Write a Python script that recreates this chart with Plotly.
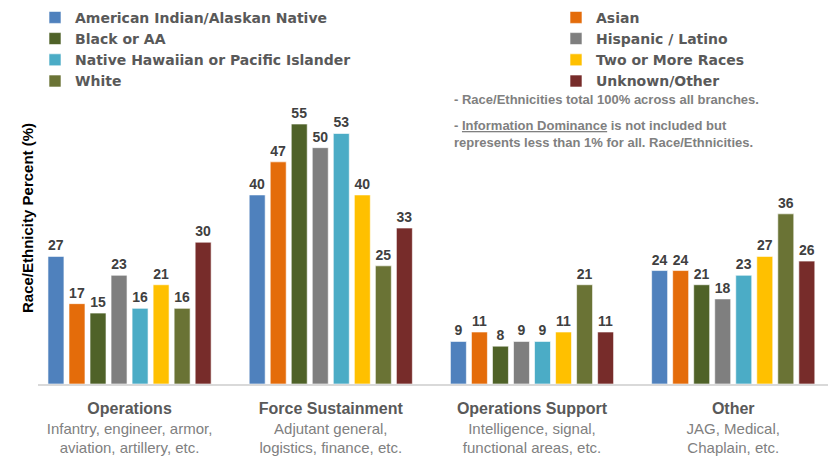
import plotly.graph_objects as go

branches = ["Operations", "Force Sustainment", "Operations Support", "Other"]
branch_notes = [
    "Infantry, engineer, armor,<br>aviation, artillery, etc.",
    "Adjutant general,<br>logistics, finance, etc.",
    "Intelligence, signal,<br>functional areas, etc.",
    "JAG, Medical,<br>Chaplain, etc.",
]

groups = [
    "American Indian/Alaskan Native", "Asian",
    "Black or AA", "Hispanic / Latino",
    "Native Hawaiian or Pacific Islander", "Two or More Races",
    "White", "Unknown/Other",
]
american_indian = [27, 40, 9, 24]
asian = [17, 47, 11, 24]
black = [15, 55, 8, 21]
hispanic = [23, 50, 9, 18]
hawaiian = [16, 53, 9, 23]
two_or_more = [21, 40, 11, 27]
white = [16, 25, 21, 36]
unknown = [30, 33, 11, 26]
values = [american_indian, asian, black, hispanic, hawaiian, two_or_more, white, unknown]

colors = ["#4F81BD", "#E46C0A", "#4F6228", "#7F7F7F",
          "#4BACC6", "#FFC000", "#6A7335", "#772C2A"]

fig = go.Figure()
for i, (name, vals, col) in enumerate(zip(groups, values, colors)):
    # legend is laid out in two columns: even entries left, odd entries right
    fig.add_trace(go.Bar(
        name=name, x=branches, y=vals, marker_color=col,
        marker_line=dict(color="rgba(255,255,255,0.6)", width=1),
        text=vals, textposition="outside", cliponaxis=False,
        textfont=dict(family="Liberation Sans", size=14, color="#404040", weight="bold"),
        legend="legend" if i % 2 == 0 else "legend2",
    ))

ticktext = [f"<span style='font-size:16px;color:#595959'><b>{b}</b></span><br>{n}"
            for b, n in zip(branches, branch_notes)]

legend_font = dict(family="DejaVu Sans", size=14, color="#595959", weight="bold")
legend_common = dict(orientation="v", xanchor="left", yanchor="top", yref="paper",
                     y=1.300, font=legend_font, bgcolor="rgba(0,0,0,0)",
                     traceorder="normal", tracegroupgap=0)

fig.update_layout(
    width=828, height=458,
    margin=dict(l=38, r=0, t=90, b=74, autoexpand=False),
    paper_bgcolor="white", plot_bgcolor="white",
    barmode="group", bargap=0.164, bargroupgap=0.24,
    showlegend=True,
    legend=dict(xref="container", x=35 / 828, **legend_common),
    legend2=dict(xref="container", x=556 / 828, **legend_common),
    xaxis=dict(
        range=[-0.455, 3.471], tickvals=branches, ticktext=ticktext,
        showline=True, linecolor="#D9D9D9", linewidth=2,
        ticks="outside", ticklen=10, tickcolor="rgba(0,0,0,0)",
        tickfont=dict(family="Liberation Sans", size=15, color="#808080"),
        showgrid=False, zeroline=False,
    ),
    yaxis=dict(range=[0, 62.2], showticklabels=False, showgrid=False,
               zeroline=False, showline=False),
)

note_font = dict(family="Liberation Sans", size=13, color="#808080", weight="bold")
fig.add_annotation(text="- Race/Ethnicities total 100% across all branches.",
                   xref="paper", yref="paper", x=(452 - 38) / 790, y=(384 - 99) / 294,
                   xanchor="left", yanchor="middle", showarrow=False, font=note_font)
fig.add_annotation(text="- <u>Information Dominance</u> is not included but<br>"
                        "represents less than 1% for all. Race/Ethnicities.",
                   xref="paper", yref="paper", x=(452 - 38) / 790, y=(384 - 134) / 294,
                   xanchor="left", yanchor="middle", align="left", showarrow=False,
                   font=note_font)
fig.add_annotation(text="Race/Ethnicity Percent (%)", textangle=-90,
                   xref="paper", yref="paper", x=(27 - 38) / 790, y=(384 - 218) / 294,
                   xanchor="center", yanchor="middle", showarrow=False,
                   font=dict(family="Liberation Sans", size=15, color="#000000", weight="bold"))

# drop the default page margin so the figure sits at the window's corner
fig.write_html("out.html", config={"displayModeBar": False},
               post_script="document.body.style.margin='0';")
